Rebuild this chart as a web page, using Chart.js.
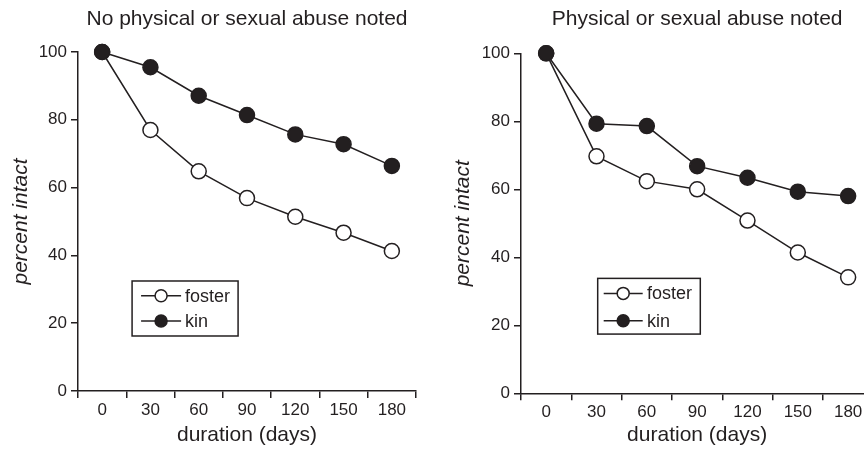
<!DOCTYPE html>
<html>
<head>
<meta charset="utf-8">
<script src="https://cdn.jsdelivr.net/npm/chart.js@4.4.1/dist/chart.umd.min.js"></script>
<style>
  html, body { margin: 0; padding: 0; background: #fff; }
  #page { position: relative; width: 864px; height: 449px; overflow: hidden; }
  .panel { position: absolute; top: 0; height: 449px; overflow: hidden; }
  #left { left: 0; width: 432px; }
  #right { left: 432px; width: 432px; }
  canvas { display: block; }
</style>
</head>
<body>
<div id="page">
  <div class="panel" id="left"><canvas id="c1" width="432" height="449"></canvas></div>
  <div class="panel" id="right"><canvas id="c2" width="460" height="449"></canvas></div>
</div>
<script>
// Placement duration categories (days)
const days = ['0', '30', '60', '90', '120', '150', '180'];

// Percent of placements still intact
const noAbuseFoster = [100, 77.0, 64.8, 56.9, 51.4, 46.7, 41.3];
const noAbuseKin    = [100, 95.5, 87.1, 81.4, 75.7, 72.8, 66.4];
const abuseFoster   = [100, 69.7, 62.4, 60.0, 50.8, 41.4, 34.1];
const abuseKin      = [100, 79.3, 78.6, 66.8, 63.4, 59.3, 58.0];

const seriesNames = ['foster', 'kin'];
const panelTitles = ['No physical or sexual abuse noted', 'Physical or sexual abuse noted'];

const INK = '#231f20';
const FONT = '"Liberation Sans", Arial, Helvetica, sans-serif';
Chart.defaults.font.family = FONT;
Chart.defaults.color = INK;

// Boxed legend drawn inside the plot area
const insetLegend = {
  id: 'insetLegend',
  afterDraw(chart, args, o) {
    const { ctx, chartArea: a } = chart;
    const x = a.left + o.fx * (a.right - a.left);
    const y = a.top + o.fy * (a.bottom - a.top);
    ctx.save();
    ctx.lineWidth = 1.5;
    ctx.strokeStyle = INK;
    ctx.strokeRect(x, y, o.w, o.h);
    chart.data.datasets.forEach((ds, i) => {
      const cy = y + o.rowTop + i * o.rowGap;
      ctx.lineWidth = 1.5;
      ctx.beginPath();
      ctx.moveTo(x + o.lineStart, cy);
      ctx.lineTo(x + o.lineStart + o.lineLen, cy);
      ctx.stroke();
      ctx.beginPath();
      ctx.arc(x + o.lineStart + o.lineLen / 2, cy, o.r, 0, Math.PI * 2);
      ctx.fillStyle = ds.pointBackgroundColor;
      ctx.fill();
      ctx.stroke();
      ctx.fillStyle = INK;
      ctx.font = '18px ' + FONT;
      ctx.textAlign = 'left';
      ctx.textBaseline = 'middle';
      ctx.fillText(ds.label, x + o.textX, cy + 1);
    });
    ctx.restore();
  }
};

function makePanel(canvasId, title, foster, kin, g) {
  const lineDs = (label, data, fill, order) => ({
    label,
    data,
    order,
    borderColor: INK,
    borderWidth: 1.5,
    tension: 0,
    pointRadius: 7.5,
    pointHoverRadius: 7.5,
    pointBorderWidth: 1.5,
    pointBackgroundColor: fill,
    pointBorderColor: INK,
    clip: false
  });

  return new Chart(document.getElementById(canvasId), {
    type: 'line',
    data: {
      labels: days,
      datasets: [
        lineDs(seriesNames[0], foster, '#ffffff', 1),
        lineDs(seriesNames[1], kin, INK, 0)
      ]
    },
    options: {
      responsive: false,
      animation: false,
      events: [],
      layout: { padding: { top: 0, left: 0, bottom: 0, right: g.padRight } },
      plugins: {
        legend: { display: false },
        tooltip: { enabled: false },
        title: {
          display: true,
          text: title,
          fullSize: false,
          color: INK,
          font: { size: 21, weight: 'normal' },
          padding: { top: g.titleTop, bottom: g.titleBottom }
        },
        insetLegend: g.legend
      },
      scales: {
        x: {
          type: 'category',
          offset: true,
          grid: { offset: true, drawOnChartArea: false, drawTicks: true, tickLength: 7, color: INK, lineWidth: 1.5 },
          border: { display: true, color: INK, width: 1.5 },
          ticks: { color: INK, font: { size: 17 }, padding: 2, maxRotation: 0, autoSkip: false },
          title: { display: true, text: 'duration (days)', color: INK, font: { size: 21 }, padding: { top: 0, bottom: g.xTitleBottom } },
          afterFit(s) { s.height = g.xHeight; }
        },
        y: {
          min: 0,
          max: 100,
          ticks: { stepSize: 20, color: INK, font: { size: 17 }, padding: 4 },
          grid: { drawOnChartArea: false, drawTicks: true, tickLength: 7, color: INK, lineWidth: 1.5 },
          border: { display: true, color: INK, width: 1.5 },
          title: { display: true, text: 'percent intact', color: INK, font: { size: 21, style: 'italic' }, padding: { top: g.yTitleTop, bottom: 0 } },
          afterFit(s) { s.width = g.yWidth; }
        }
      }
    },
    plugins: [insetLegend]
  });
}

makePanel('c1', panelTitles[0], noAbuseFoster, noAbuseKin, {
  padRight: 16, titleTop: 6.4, titleBottom: 20.4, xHeight: 58, yWidth: 78,
  xTitleBottom: 1.4, yTitleTop: 8.4,
  legend: { fx: 0.16, fy: 0.6755, w: 106, h: 55, rowTop: 14.7, rowGap: 25.3, lineStart: 9, lineLen: 40, r: 6, textX: 53 }
});

makePanel('c2', panelTitles[1], abuseFoster, abuseKin, {
  padRight: 18.7, titleTop: 7.1, titleBottom: 21, xHeight: 55.7, yWidth: 89,
  xTitleBottom: 0.7, yTitleTop: 19,
  legend: { fx: 0.2177, fy: 0.662, w: 102.6, h: 55.7, rowTop: 15, rowGap: 27.4, lineStart: 6, lineLen: 39, r: 6, textX: 49.3 }
});
</script>
</body>
</html>
